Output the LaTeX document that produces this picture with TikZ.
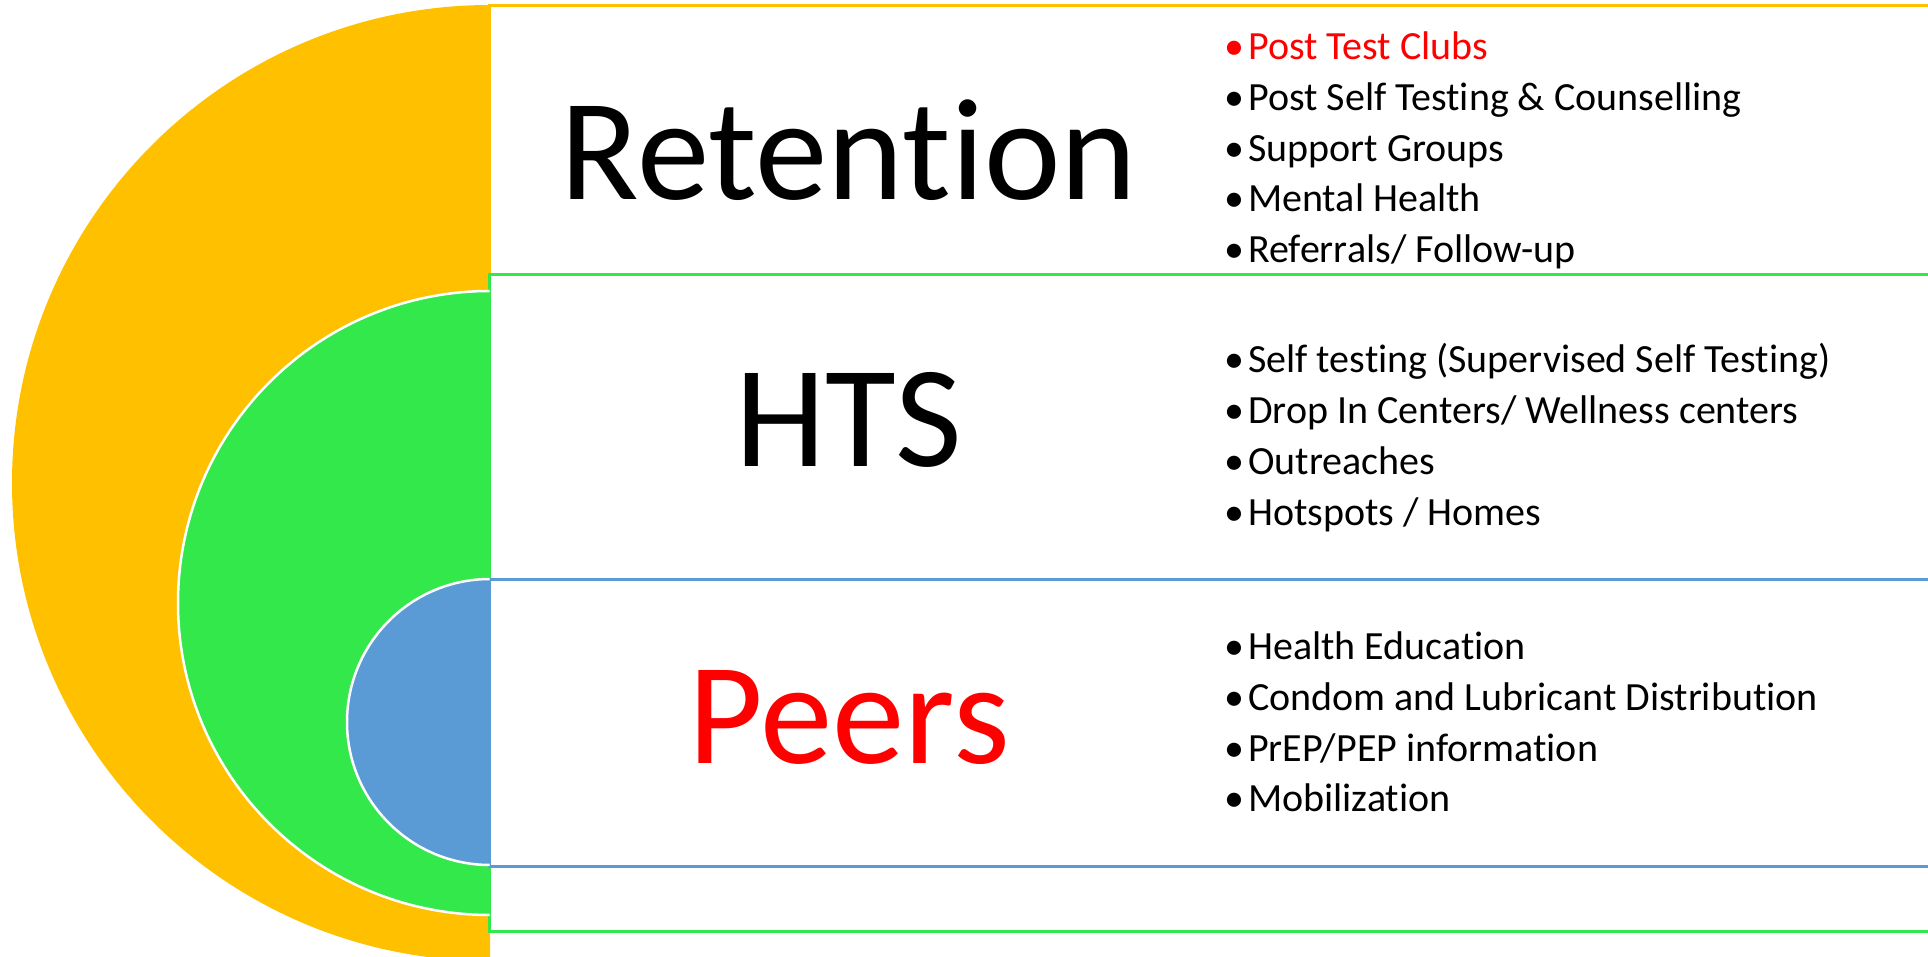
\documentclass[tikz,border=0pt]{standalone}
\usepackage{fontspec}
\setmainfont{Carlito}[RawFeature={-liga}]
\definecolor{orng}{HTML}{FFC000}
\definecolor{grn}{HTML}{33E84B}
\definecolor{blu}{HTML}{5B9BD5}
\definecolor{redt}{HTML}{FF0000}
\begin{document}
\begin{tikzpicture}[x=1pt,y=-1pt,
  discline/.style={draw=white,line width=2.5pt},
  panel/.style={fill=white,line width=3pt},
  big/.style={anchor=base,inner sep=0pt,font=\fontsize{145}{174}\selectfont},
  item/.style={anchor=base west,inner sep=0pt,font=\fontsize{40}{50}\selectfont}]
\useasboundingbox (0,0) rectangle (1928,957);
\clip (0,0) rectangle (1928,957);
% orange half disc and panel
\begin{scope}
  \clip (0,0) rectangle (490,957);
  \fill[orng] (490,483) circle[radius=478];
\end{scope}
\draw[panel,draw=orng] (489,6) rectangle (1950,500);
% green panel and half disc
\draw[panel,draw=grn] (489,275) rectangle (1950,931);
\begin{scope}
  \clip (0,0) rectangle (489.5,957);
  \fill[grn,discline] (490,603) circle[radius=312];
\end{scope}
% blue panel and half disc
\draw[panel,draw=blu] (489,579) rectangle (1950,866);
\begin{scope}
  \clip (0,0) rectangle (489.5,957);
  \fill[blu,discline] (490,722) circle[radius=143];
\end{scope}
% titles
\node[big] (ret) at (849,200) {Retention};
\node[big] (hts) at (849,467) {HTS};
\node[big,text=redt] (peers) at (849,763) {Peers};
% retention items
\node[item,text=redt] (r1) at (1248,60) {\llap{•\hspace{4pt}}Post Test Clubs};
\node[item] (r2) at (1248,111) {\llap{•\hspace{4pt}}Post Self Testing \& Counselling};
\node[item] (r3) at (1248,162) {\llap{•\hspace{4pt}}Support Groups};
\node[item] (r4) at (1248,212) {\llap{•\hspace{4pt}}Mental Health};
\node[item] (r5) at (1248,263) {\llap{•\hspace{4pt}}Referrals/ Follow-up};
% HTS items
\node[item] (h1) at (1248,373) {\llap{•\hspace{4pt}}Self testing (Supervised Self Testing)};
\node[item] (h2) at (1248,424) {\llap{•\hspace{4pt}}Drop In Centers/ Wellness centers};
\node[item] (h3) at (1248,475) {\llap{•\hspace{4pt}}Outreaches};
\node[item] (h4) at (1248,525) {\llap{•\hspace{4pt}}Hotspots / Homes};
% peers items
\node[item] (p1) at (1248,659) {\llap{•\hspace{4pt}}Health Education};
\node[item] (p2) at (1248,710) {\llap{•\hspace{4pt}}Condom and Lubricant Distribution};
\node[item] (p3) at (1248,761) {\llap{•\hspace{4pt}}PrEP/PEP information};
\node[item] (p4) at (1248,811) {\llap{•\hspace{4pt}}Mobilization};
\end{tikzpicture}
\end{document}
